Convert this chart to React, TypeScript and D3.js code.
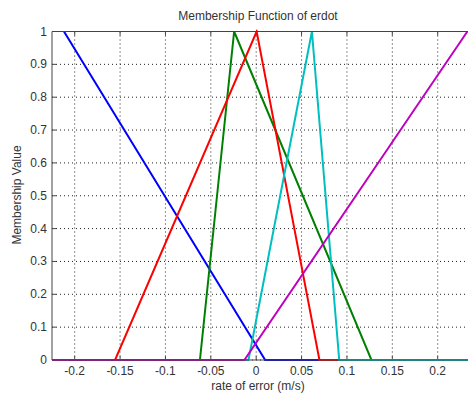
import React from "react";
import * as d3 from "d3";

const xTicks = [-0.2, -0.15, -0.1, -0.05, 0, 0.05, 0.1, 0.15, 0.2];
const xTickLabels = ["-0.2", "-0.15", "-0.1", "-0.05", "0", "0.05", "0.1", "0.15", "0.2"];
const yTicks = [0, 0.1, 0.2, 0.3, 0.4, 0.5, 0.6, 0.7, 0.8, 0.9, 1];
const yTickLabels = ["0", "0.1", "0.2", "0.3", "0.4", "0.5", "0.6", "0.7", "0.8", "0.9", "1"];

// membership function breakpoints [x, y]
const blueMF: [number, number][] = [[-0.2118, 1], [0.0099, 0], [0.24, 0]];
const greenMF: [number, number][] = [[-0.225, 0], [-0.062, 0], [-0.0243, 1], [0.127, 0], [0.24, 0]];
const redMF: [number, number][] = [[-0.225, 0], [-0.1555, 0], [0.0005, 1], [0.0697, 0], [0.24, 0]];
const cyanMF: [number, number][] = [[-0.225, 0], [-0.0085, 0], [0.0614, 1], [0.0915, 0], [0.24, 0]];
const magentaMF: [number, number][] = [[-0.225, 0], [-0.013, 0], [0.2327, 1]];

const series = [
  { pts: blueMF, color: "#0000ff" },
  { pts: greenMF, color: "#008000" },
  { pts: redMF, color: "#ff0000" },
  { pts: cyanMF, color: "#00bfbf" },
  { pts: magentaMF, color: "#bf00bf" },
];

export default function App() {
  const W = 468, H = 396;
  const left = 52, top = 31.5, bottom = 360;
  const x = d3.scaleLinear().domain([-0.225, 0.2345]).range([left, 469]);
  const y = d3.scaleLinear().domain([0, 1]).range([bottom, top]);
  const line = d3.line<[number, number]>().x(d => x(d[0])).y(d => y(d[1]));
  const font = "Liberation Sans, Arial, sans-serif";
  return (
    <svg width={W} height={H} style={{ position: "absolute", left: 0, top: 0, background: "#fff" }}>
      <rect x={0} y={0} width={W} height={H} fill="#fff" />
      <defs>
        <clipPath id="plot">
          <rect x={left} y={top - 2} width={469 - left} height={bottom - top + 4} />
        </clipPath>
      </defs>
      {xTicks.map((t, i) => (
        <g key={"xg" + i}>
          <line x1={x(t)} x2={x(t)} y1={top} y2={bottom} stroke="#222" strokeDasharray="1,3" strokeWidth={1} />
          <line x1={x(t)} x2={x(t)} y1={bottom} y2={bottom - 4} stroke="#444" />
          <line x1={x(t)} x2={x(t)} y1={top} y2={top + 4} stroke="#444" />
          <text x={x(t)} y={375} textAnchor="middle" fontFamily={font} fontSize={12} fill="#333">{xTickLabels[i]}</text>
        </g>
      ))}
      {yTicks.map((t, i) => (
        <g key={"yg" + i}>
          <line x1={left} x2={469} y1={y(t)} y2={y(t)} stroke="#222" strokeDasharray="1,3" strokeWidth={1} />
          <line x1={left} x2={left + 4} y1={y(t)} y2={y(t)} stroke="#444" />
          <text x={47} y={y(t) + 4} textAnchor="end" fontFamily={font} fontSize={12} fill="#333">{yTickLabels[i]}</text>
        </g>
      ))}
      <g clipPath="url(#plot)">
        {series.map((s, i) => (
          <path key={i} d={line(s.pts) || ""} fill="none" stroke={s.color} strokeWidth={2} />
        ))}
      </g>
      <line x1={left} x2={469} y1={top} y2={top} stroke="#444" />
      <line x1={left} x2={469} y1={bottom} y2={bottom} stroke="#444" />
      <line x1={left} x2={left} y1={top} y2={bottom} stroke="#444" />
      <text x={258} y={20} textAnchor="middle" fontFamily={font} fontSize={12} fill="#333">Membership Function of erdot</text>
      <text x={258} y={390} textAnchor="middle" fontFamily={font} fontSize={12} fill="#333">rate of error (m/s)</text>
      <text transform="translate(21,195) rotate(-90)" textAnchor="middle" fontFamily={font} fontSize={12} fill="#333">Membership Value</text>
    </svg>
  );
}
